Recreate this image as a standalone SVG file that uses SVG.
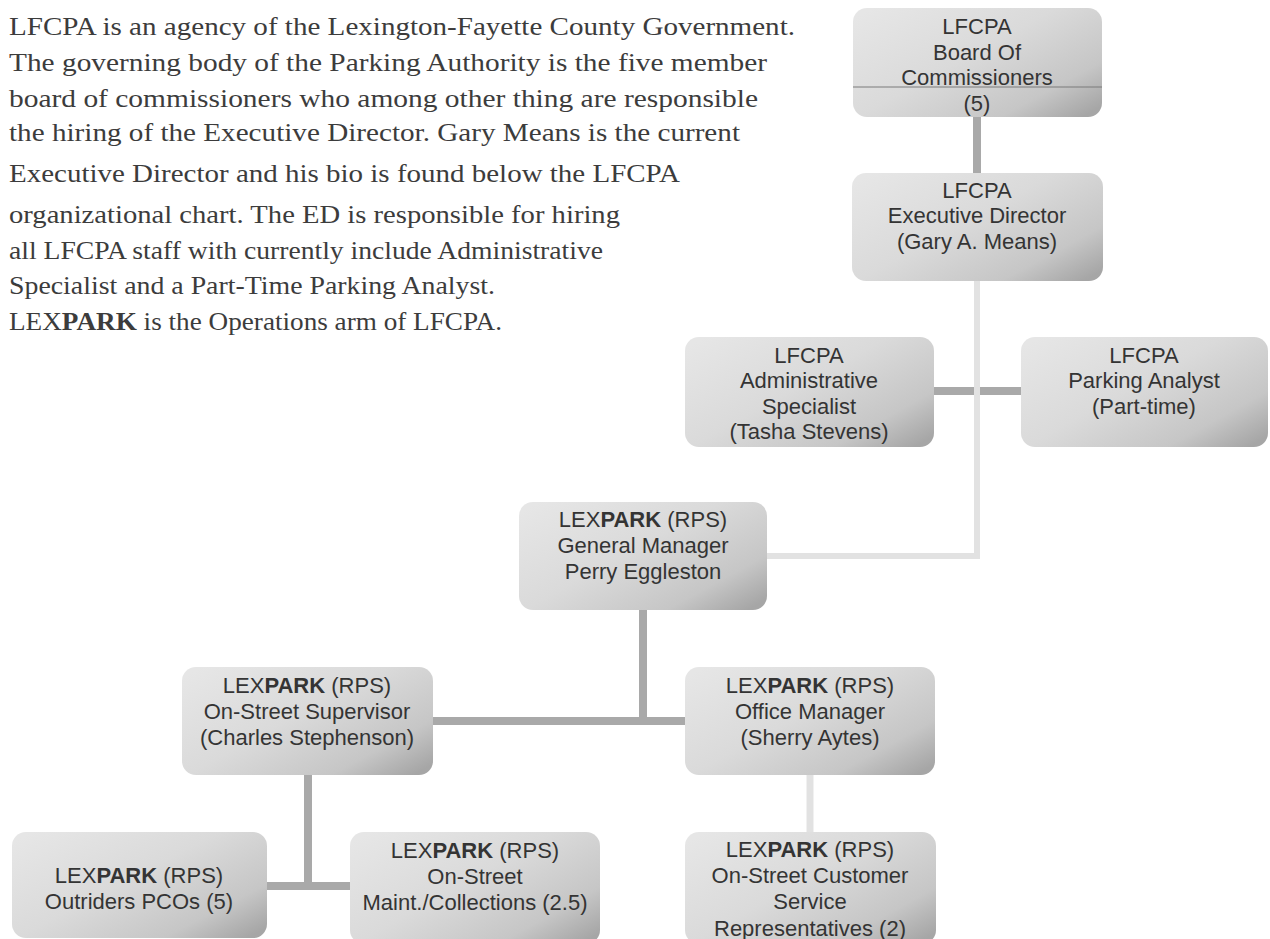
<svg xmlns="http://www.w3.org/2000/svg" width="1270" height="939" viewBox="0 0 1270 939">
<defs>
<linearGradient id="boxfill" x1="0" y1="0.1" x2="1" y2="0.9">
<stop offset="0" stop-color="#e6e6e6"/>
<stop offset="0.45" stop-color="#dadada"/>
<stop offset="0.8" stop-color="#c6c6c6"/>
<stop offset="1" stop-color="#a6a6a6"/>
</linearGradient>
<style>
.box{fill:url(#boxfill);}
.lbl{font-family:"Liberation Sans",Arial,sans-serif;font-size:22px;fill:#343434;text-anchor:middle;}
.b{font-weight:bold;}
.para{font-family:"Liberation Serif","Times New Roman",serif;font-size:26px;fill:#3c3c3c;}
.dark{stroke:#a9a9a9;stroke-width:8;fill:none;}
.light{stroke:#e2e2e2;stroke-width:6;fill:none;}
</style>
</defs>
<rect width="1270" height="939" fill="#ffffff"/>

<g id="paragraph">
<text class="para" x="9" y="35" textLength="786" lengthAdjust="spacingAndGlyphs">LFCPA is an agency of the Lexington-Fayette County Government.</text>
<text class="para" x="9" y="71" textLength="758" lengthAdjust="spacingAndGlyphs">The governing body of the Parking Authority is the five member</text>
<text class="para" x="9" y="107" textLength="749" lengthAdjust="spacingAndGlyphs">board of commissioners who among other thing are responsible</text>
<text class="para" x="9" y="141" textLength="731" lengthAdjust="spacingAndGlyphs">the hiring of the Executive Director. Gary Means is the current</text>
<text class="para" x="9" y="182" textLength="671" lengthAdjust="spacingAndGlyphs">Executive Director and his bio is found below the LFCPA</text>
<text class="para" x="9" y="223" textLength="611" lengthAdjust="spacingAndGlyphs">organizational chart. The ED is responsible for hiring</text>
<text class="para" x="9" y="259" textLength="594" lengthAdjust="spacingAndGlyphs">all LFCPA staff with currently include Administrative</text>
<text class="para" x="9" y="294" textLength="486" lengthAdjust="spacingAndGlyphs">Specialist and a Part-Time Parking Analyst.</text>
<text class="para" x="9" y="330" textLength="493" lengthAdjust="spacingAndGlyphs">LEX<tspan class="b">PARK</tspan> is the Operations arm of LFCPA.</text>
</g>

<g id="connectors">
<line class="dark" x1="977" y1="117" x2="977" y2="173"/>
<line class="dark" x1="934" y1="391" x2="1021" y2="391"/>
<path class="light" d="M977,281 V556 H767"/>
<line class="dark" x1="643" y1="610" x2="643" y2="721"/>
<line class="dark" x1="433" y1="721" x2="685" y2="721"/>
<line class="light" x1="810" y1="775" x2="810" y2="832" style="stroke-width:7"/>
<line class="dark" x1="308" y1="775" x2="308" y2="886"/>
<line class="dark" x1="267" y1="886" x2="350" y2="886"/>
</g>

<g id="board">
<rect class="box" x="853" y="8" width="249" height="109" rx="14"/>
<line x1="853" y1="87" x2="1102" y2="87" stroke="#7a7a7a" stroke-width="1"/>
<text class="lbl" x="977" y="34">LFCPA</text>
<text class="lbl" x="977" y="60">Board Of</text>
<text class="lbl" x="977" y="85">Commissioners</text>
<text class="lbl" x="977" y="111">(5)</text>
</g>

<g id="executive-director">
<rect class="box" x="852" y="173" width="251" height="108" rx="14"/>
<text class="lbl" x="977" y="198">LFCPA</text>
<text class="lbl" x="977" y="223">Executive Director</text>
<text class="lbl" x="977" y="249">(Gary A. Means)</text>
</g>

<g id="admin-specialist">
<rect class="box" x="685" y="337" width="249" height="110" rx="14"/>
<text class="lbl" x="809" y="363">LFCPA</text>
<text class="lbl" x="809" y="388">Administrative</text>
<text class="lbl" x="809" y="414">Specialist</text>
<text class="lbl" x="809" y="439">(Tasha Stevens)</text>
</g>

<g id="parking-analyst">
<rect class="box" x="1021" y="337" width="247" height="110" rx="14"/>
<text class="lbl" x="1144" y="363">LFCPA</text>
<text class="lbl" x="1144" y="388">Parking Analyst</text>
<text class="lbl" x="1144" y="414">(Part-time)</text>
</g>

<g id="general-manager">
<rect class="box" x="519" y="502" width="248" height="108" rx="14"/>
<text class="lbl" x="643" y="527">LEX<tspan class="b">PARK</tspan> (RPS)</text>
<text class="lbl" x="643" y="553">General Manager</text>
<text class="lbl" x="643" y="579">Perry Eggleston</text>
</g>

<g id="on-street-supervisor">
<rect class="box" x="182" y="667" width="251" height="108" rx="14"/>
<text class="lbl" x="307" y="693">LEX<tspan class="b">PARK</tspan> (RPS)</text>
<text class="lbl" x="307" y="719">On-Street Supervisor</text>
<text class="lbl" x="307" y="745">(Charles Stephenson)</text>
</g>

<g id="office-manager">
<rect class="box" x="685" y="667" width="250" height="108" rx="14"/>
<text class="lbl" x="810" y="693">LEX<tspan class="b">PARK</tspan> (RPS)</text>
<text class="lbl" x="810" y="719">Office Manager</text>
<text class="lbl" x="810" y="745">(Sherry Aytes)</text>
</g>

<g id="outriders">
<rect class="box" x="12" y="832" width="255" height="106" rx="14"/>
<text class="lbl" x="139" y="883">LEX<tspan class="b">PARK</tspan> (RPS)</text>
<text class="lbl" x="139" y="909">Outriders PCOs (5)</text>
</g>

<g id="maint-collections">
<rect class="box" x="350" y="832" width="250" height="112" rx="14"/>
<text class="lbl" x="475" y="858">LEX<tspan class="b">PARK</tspan> (RPS)</text>
<text class="lbl" x="475" y="884">On-Street</text>
<text class="lbl" x="475" y="910">Maint./Collections (2.5)</text>
</g>

<g id="customer-service">
<rect class="box" x="685" y="832" width="251" height="112" rx="14"/>
<text class="lbl" x="810" y="857">LEX<tspan class="b">PARK</tspan> (RPS)</text>
<text class="lbl" x="810" y="883">On-Street Customer</text>
<text class="lbl" x="810" y="909">Service</text>
<text class="lbl" x="810" y="936">Representatives (2)</text>
</g>
</svg>
